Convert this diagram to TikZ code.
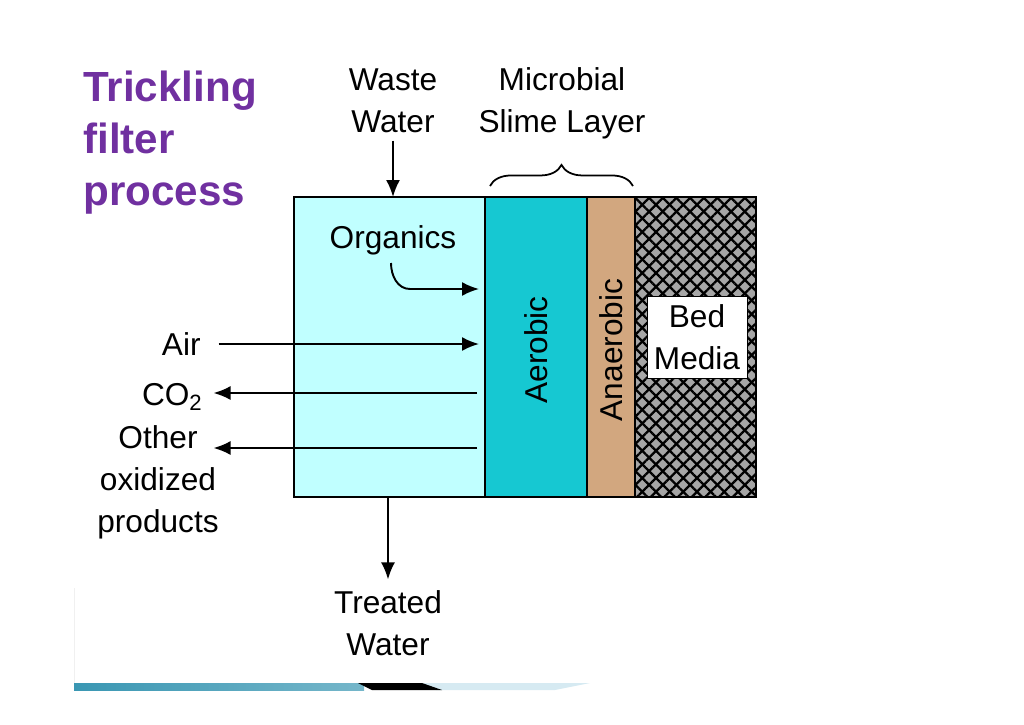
\documentclass[tikz,border=0pt]{standalone}
\usepackage{fontspec}
\setmainfont{Liberation Sans}
\usepackage{tikz}
\usetikzlibrary{arrows.meta,decorations.pathreplacing,patterns.meta}
\definecolor{titlepurple}{HTML}{7030A0}
\definecolor{waterfill}{HTML}{C0FFFF}
\definecolor{aerofill}{HTML}{16C8D2}
\definecolor{anaefill}{HTML}{D2A77F}
\definecolor{barteal}{HTML}{3A97B3}
\definecolor{barlight}{HTML}{D6EAF2}

\begin{document}
\begin{tikzpicture}[x=0.02cm, y=-0.02cm, every node/.style={font=\fontsize{18}{24}\selectfont}, >={Latex[length=3.4mm,width=2.8mm]}, lbl/.style={align=center, inner sep=0pt}, arr/.style={->, line width=1.1pt}, layer/.style={draw, line width=1.1pt}]
	\useasboundingbox (0,0) rectangle (1024,724);
	% title
	\node[lbl, align=left, anchor=north west, text=titlepurple, font=\fontsize{24}{29.5}\selectfont\bfseries] (title) at (83,71) {Trickling\\ filter\\ process};
	% filter layers
	\draw[layer, fill=waterfill] (294,197) rectangle (485,497);
	\draw[layer, fill=aerofill] (485,197) rectangle (587,497);
	\draw[layer, fill=anaefill] (587,197) rectangle (635,497);
	\fill[gray!70] (635,197) rectangle (756,497);
	\fill[pattern={Lines[angle=45,distance=5.5pt,line width=1.3pt]}, pattern color=black] (635,197) rectangle (756,497);
	\fill[pattern={Lines[angle=-45,distance=5.5pt,line width=1.3pt]}, pattern color=black] (635,197) rectangle (756,497);
	\draw[layer] (635,197) rectangle (756,497);
	\draw[line width=1.1pt] (294,197) rectangle (756,497);
	\node[lbl, fill=white, draw, minimum width=2cm, minimum height=1.64cm] (bed) at (697,337) {Bed\\ Media};
	\node[lbl, rotate=90] (aero) at (536,350) {Aerobic};
	\node[lbl, rotate=90] (anae) at (611,350) {Anaerobic};
	% labels
	\node[lbl] (waste) at (393,101) {Waste\\ Water};
	\node[lbl] (slime) at (562,103) {Microbial\\ Slime Layer};
	\node[lbl] (org) at (393,240) {Organics};
	\node[lbl, anchor=east] (air) at (201,344) {Air};
	\node[lbl, anchor=east] (co2) at (203,397) {CO\textsubscript{2}};
	\node[lbl] (other) at (158,482) {Other\\ oxidized\\ products};
	\node[lbl] (treated) at (388,623) {Treated\\ Water};
	\coordinate (wastein) at (393,197);
	\coordinate (orgA) at (391,263);
	\coordinate (orgB) at (410,289);
	\coordinate (orgend) at (479,289);
	\coordinate (airend) at (479,344);
	\coordinate (co2start) at (477,393);
	\coordinate (otherstart) at (477,448);
	\coordinate (treatedout) at (388,497);
	% flows
	\draw[arr, shorten <=4pt] (waste) -- (wastein);
	\draw[line width=1.1pt] (orgA) to[out=-90,in=180] (orgB);
	\draw[arr] (orgB) -- (orgend);
	\draw[arr, shorten <=10pt] (air.east) -- (airend);
	\draw[arr, shorten >=6pt] (co2start) -- (co2start -| co2.east);
	\draw[arr, shorten >=6pt] (otherstart) -- (otherstart -| co2.east);
	\draw[arr, shorten >=6pt] (treatedout) -- (treated.north);
	% brace over the slime layer
	\draw[line width=1pt, decorate, decoration={brace, amplitude=12pt}] (490,186) -- (633,186);
	% footer bar
	\draw[gray!12] (74,588) -- (74,684);
	\shade[left color=barteal, right color=barteal!70] (74,683) rectangle (364,690);
	\fill[barlight] (420,683) -- (590,683) -- (555,690) -- (436,690) -- cycle;
	\fill[black] (358,683) -- (422,683) -- (442,690) -- (372,690) -- cycle;
	\end{tikzpicture}
\end{document}
